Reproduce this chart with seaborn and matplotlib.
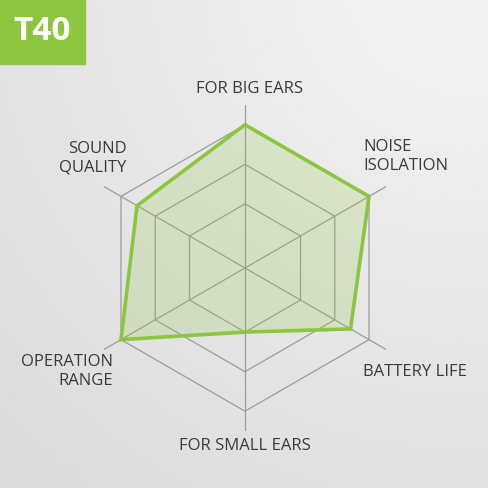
import numpy as np
import matplotlib
matplotlib.use("Agg")
import matplotlib.pyplot as plt
import seaborn as sns
from matplotlib.patches import Rectangle

# chart data
categories = ["FOR BIG EARS", "NOISE\nISOLATION", "BATTERY LIFE",
              "FOR SMALL EARS", "OPERATION\nRANGE", "SOUND\nQUALITY"]
scores = [3.0, 3.0, 2.46, 1.0, 3.0, 2.53]
ring_levels = [1, 2, 3]
model_name = "T40"

GREEN = "#8cc63f"
GRID = "#9c9c9c"
TEXT = "#3a3a3a"
R_MIN, R_MAX = -0.62, 3.5

sns.set_theme(style="white", rc={
    'axes.facecolor': 'none',
    'figure.facecolor': '#e9e9e9',
    'savefig.facecolor': '#e9e9e9',
})
plt.rcParams['font.family'] = ['Open Sans', 'DejaVu Sans']

fig = plt.figure(figsize=(4.88, 4.88), dpi=100)

# soft grey background
bg = fig.add_axes([0, 0, 1, 1], zorder=0)
yy, xx = np.mgrid[0:1:300j, 0:1:300j]
dist = np.hypot(xx - 0.95, yy + 0.05)
shade = 0.955 - 0.095 * np.clip(dist / 1.35, 0, 1)
bg.imshow(shade, cmap='gray', vmin=0, vmax=1, extent=[0, 1, 0, 1],
          origin='upper', aspect='auto', interpolation='bilinear')
bg.axis('off')

ax = fig.add_axes([82 / 488, 57 / 488, 326 / 488, 326 / 488],
                  projection='polar', zorder=1)
ax.set_theta_offset(np.pi / 2)
ax.set_theta_direction(-1)
ax.set_ylim(R_MIN, R_MAX)
ax.grid(False)
ax.set_xticks([])
ax.set_yticks([])
ax.spines['polar'].set_visible(False)

n = len(categories)
theta = np.linspace(0, 2 * np.pi, n, endpoint=False)
theta_closed = np.append(theta, 2 * np.pi)

# hexagon grid
for lvl in ring_levels:
    ax.plot(theta_closed, [lvl] * (n + 1), color=GRID, lw=0.9, zorder=1)
for t in theta:
    ax.plot([t, t], [R_MIN, R_MAX], color=GRID, lw=0.9, zorder=1)

# scores
vals_closed = scores + scores[:1]
ax.fill(theta_closed, vals_closed, color=GREEN, alpha=0.2, zorder=2, lw=0)
sns.lineplot(x=theta_closed, y=vals_closed, sort=False, estimator=None,
             color=GREEN, lw=2.6, ax=ax, zorder=3)
ax.lines[-1].set_solid_joinstyle('miter')
ax.set_xlabel('')
ax.set_ylabel('')

# category labels, offset from the spoke ends (pixels)
offsets = [(5, 16), (-23, 30), (-23, -22), (0, -15), (9, -22), (23, 28)]
aligns = ['center', 'left', 'left', 'center', 'right', 'right']
for t, lab, (dx, dy), ha in zip(theta, categories, offsets, aligns):
    ax.annotate(lab, xy=(t, R_MAX), xytext=(dx, dy), textcoords='offset pixels',
                ha=ha, va='center', fontsize=12, color=TEXT,
                linespacing=1.2, annotation_clip=False)

# model badge
fig.patches.append(Rectangle((0, 1 - 64 / 488), 85 / 488, 64 / 488,
                             transform=fig.transFigure, color=GREEN, zorder=5))
fig.text(42 / 488, 1 - 32 / 488, model_name, ha='center', va='center',
         color='white', fontsize=24, fontweight='bold', zorder=6)

fig.savefig('out.png', dpi=100)
